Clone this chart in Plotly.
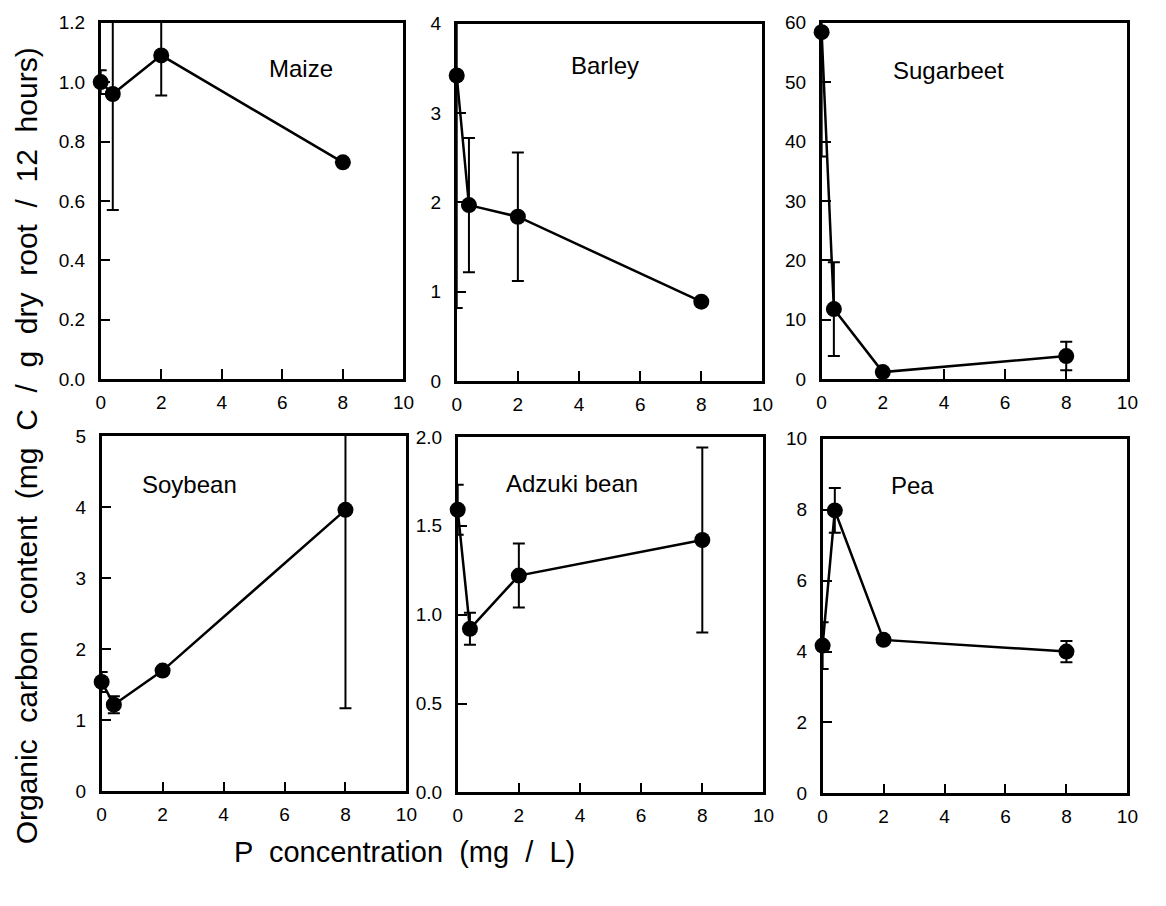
import plotly.graph_objects as go

W, H = 1166, 906

# ---- data ----
p_conc = [0, 0.4, 2, 8]

crops = ["Maize", "Barley", "Sugarbeet", "Soybean", "Adzuki bean", "Pea"]

maize_y = [1.00, 0.96, 1.09, 0.73]
maize_err = [0.04, 0.39, 0.135, None]

barley_y = [3.42, 1.97, 1.84, 0.89]
barley_err = [2.6, 0.75, 0.72, None]

sugarbeet_y = [58.4, 11.8, 1.2, 3.9]
sugarbeet_err = [20.9, 7.9, None, 2.4]

soybean_y = [1.54, 1.22, 1.70, 3.96]
soybean_err = [0.14, 0.12, None, 2.79]

adzuki_y = [1.59, 0.92, 1.22, 1.42]
adzuki_err = [0.14, 0.09, 0.18, 0.52]

pea_y = [4.17, 7.98, 4.33, 4.00]
pea_err = [0.66, 0.63, None, 0.30]

y_values = [maize_y, barley_y, sugarbeet_y, soybean_y, adzuki_y, pea_y]
y_errors = [maize_err, barley_err, sugarbeet_err, soybean_err, adzuki_err, pea_err]

y_ranges = [(0, 1.2), (0, 4), (0, 60), (0, 5), (0, 2.0), (0, 10)]
y_dticks = [0.2, 1, 10, 1, 0.5, 2]
y_formats = [".1f", "d", "d", "d", ".1f", "d"]

x_range = (0, 10)
x_dtick = 2

y_title = "Organic  carbon  content  (mg  C  /  g  dry  root  /  12  hours)"
x_title = "P  concentration  (mg  /  L)"

# ---- layout (pixel boxes of each panel: left, right, top, bottom) ----
boxes = [
    (97, 404, 13, 378),
    (458, 768, 14, 380),
    (828, 1138, 13, 378),
    (98, 407, 436, 800),
    (459, 769, 437, 801),
    (829, 1138, 439, 802),
]
title_pos = [(300, 60), (608, 57), (957, 62), (187, 486), (575, 485), (920, 487)]


def px(x):
    return x / W


def py(y):
    return 1 - y / H


FONT = "Liberation Sans, Arial, Helvetica, sans-serif"

fig = go.Figure()
layout = dict(
    width=W, height=H,
    margin=dict(l=0, r=0, t=0, b=0),
    paper_bgcolor="white", plot_bgcolor="white",
    showlegend=False,
    font=dict(family=FONT, color="black"),
)

annotations = []
for i, (name, yv, ye) in enumerate(zip(crops, y_values, y_errors)):
    k = "" if i == 0 else str(i + 1)
    xa, ya = "x" + k, "y" + k
    l, r, t, b = boxes[i]
    layout["xaxis" + k] = dict(
        domain=[px(l), px(r)], range=list(x_range), anchor=ya,
        tick0=0, dtick=x_dtick, ticks="inside", ticklen=10, tickwidth=2,
        tickcolor="black", showline=True, linewidth=2.5, linecolor="black",
        mirror=True, showgrid=False, zeroline=False, ticklabelstandoff=4,
        tickfont=dict(size=19, family=FONT, color="black"),
    )
    layout["yaxis" + k] = dict(
        domain=[py(b), py(t)], range=list(y_ranges[i]), anchor=xa,
        tick0=0, dtick=y_dticks[i], tickformat=y_formats[i],
        ticks="inside", ticklen=10, tickwidth=2, tickcolor="black",
        showline=True, linewidth=2.5, linecolor="black", mirror=True,
        showgrid=False, zeroline=False, ticklabelstandoff=9,
        tickfont=dict(size=19, family=FONT, color="black"),
    )
    # error bars (clipped to the panel)
    fig.add_trace(go.Scatter(
        x=p_conc, y=yv, xaxis=xa, yaxis=ya, mode="markers",
        marker=dict(size=1, color="rgba(0,0,0,0)"),
        error_y=dict(type="data", array=ye, symmetric=True, color="black",
                     thickness=2, width=6, visible=True),
        cliponaxis=True, hoverinfo="skip",
    ))
    # line + markers
    fig.add_trace(go.Scatter(
        x=p_conc, y=yv, xaxis=xa, yaxis=ya, mode="lines+markers",
        line=dict(color="black", width=2.5),
        marker=dict(size=16, color="black"),
        cliponaxis=False, name=name,
    ))
    tx, ty = title_pos[i]
    annotations.append(dict(
        x=px(tx), y=py(ty), xref="paper", yref="paper", text=name,
        showarrow=False, xanchor="center", yanchor="middle",
        font=dict(size=24, family=FONT, color="black"),
    ))

annotations.append(dict(
    x=px(22), y=py(446), xref="paper", yref="paper", text=y_title,
    textangle=-90, showarrow=False, xanchor="center", yanchor="middle",
    font=dict(size=30, family=FONT, color="black"),
))
annotations.append(dict(
    x=px(405), y=py(862), xref="paper", yref="paper", text=x_title,
    showarrow=False, xanchor="center", yanchor="middle",
    font=dict(size=29, family=FONT, color="black"),
))
layout["annotations"] = annotations
fig.update_layout(**layout)

fig.write_html("out.html")
